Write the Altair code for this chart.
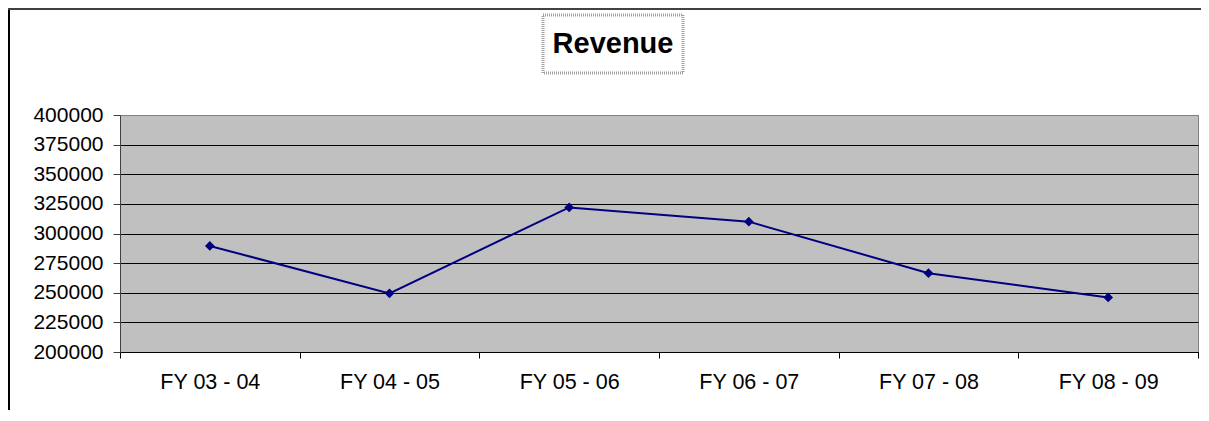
import altair as alt
import pandas as pd

years = ["FY 03 - 04", "FY 04 - 05", "FY 05 - 06", "FY 06 - 07", "FY 07 - 08", "FY 08 - 09"]
revenue = [289500, 249500, 322000, 310000, 266500, 246000]
y_ticks = [200000, 225000, 250000, 275000, 300000, 325000, 350000, 375000, 400000]
chart_title = "Revenue"

df = pd.DataFrame({"year": years, "revenue": revenue})
FONT = "Liberation Sans"

x_enc = alt.X(
    "year:N", sort=None, title=None,
    scale=alt.Scale(type="band", paddingInner=0, paddingOuter=0),
    axis=alt.Axis(
        labelAngle=0, tickBand="extent", tickSize=6, tickColor="black",
        domainColor="black", labelFont=FONT, labelFontSize=21.5,
        labelColor="black", labelPadding=13, grid=False,
    ),
)
y_enc = alt.Y(
    "revenue:Q", title=None,
    scale=alt.Scale(domain=[200000, 400000], nice=False, zero=False),
    axis=alt.Axis(
        values=y_ticks, format="d", tickSize=7, tickColor="#404040",
        domainColor="#404040", labelFont=FONT, labelFontSize=21,
        labelColor="black", labelPadding=10,
        grid=True,
        gridColor=alt.condition("datum.value == 400000", alt.value("#808080"), alt.value("black")),
        gridOpacity=1, gridWidth=1,
    ),
)

base = alt.Chart(df).encode(x=x_enc, y=y_enc)
line = base.mark_line(color="#000080", strokeWidth=2)
pts = base.mark_point(shape="diamond", filled=True, size=95, color="#000080", opacity=1)

one = alt.Data(values=[{"k": 1}])
title_data = alt.Data(values=[{"t": chart_title}])

box = alt.Chart(one).mark_rect(
    filled=False, stroke="#A0A0A0", strokeWidth=3, strokeDash=[1, 1]
).encode(x=alt.value(423), x2=alt.value(563), y=alt.value(-100), y2=alt.value(-42))

title_txt = alt.Chart(title_data).mark_text(
    font=FONT, fontSize=29, fontWeight="bold", color="black",
    align="center", baseline="alphabetic",
).encode(text="t:N", x=alt.value(493), y=alt.value(-62))

frame_left = alt.Chart(one).mark_rect(color="black", strokeWidth=0).encode(
    x=alt.value(-112), x2=alt.value(-110), y=alt.value(-107), y2=alt.value(310)
)
frame_top = alt.Chart(one).mark_rect(color="#404040", strokeWidth=0).encode(
    x=alt.value(-112), x2=alt.value(1081), y=alt.value(-107), y2=alt.value(-105)
)
cover = alt.Chart(one).mark_rect(color="white", strokeWidth=0).encode(
    x=alt.value(1074), x2=alt.value(1081), y=alt.value(-105), y2=alt.value(-1)
)

chart = alt.layer(box, title_txt, frame_left, frame_top, line, pts, cover).properties(
    width=1078,
    height=237,
    autosize=alt.AutoSizeParams(type="none"),
    padding={"left": 112, "top": 107, "right": 3, "bottom": 58},
).configure_view(fill="#C0C0C0", stroke="#808080", strokeWidth=1)

chart.save("out.html", embed_options={"renderer": "svg", "actions": False})
